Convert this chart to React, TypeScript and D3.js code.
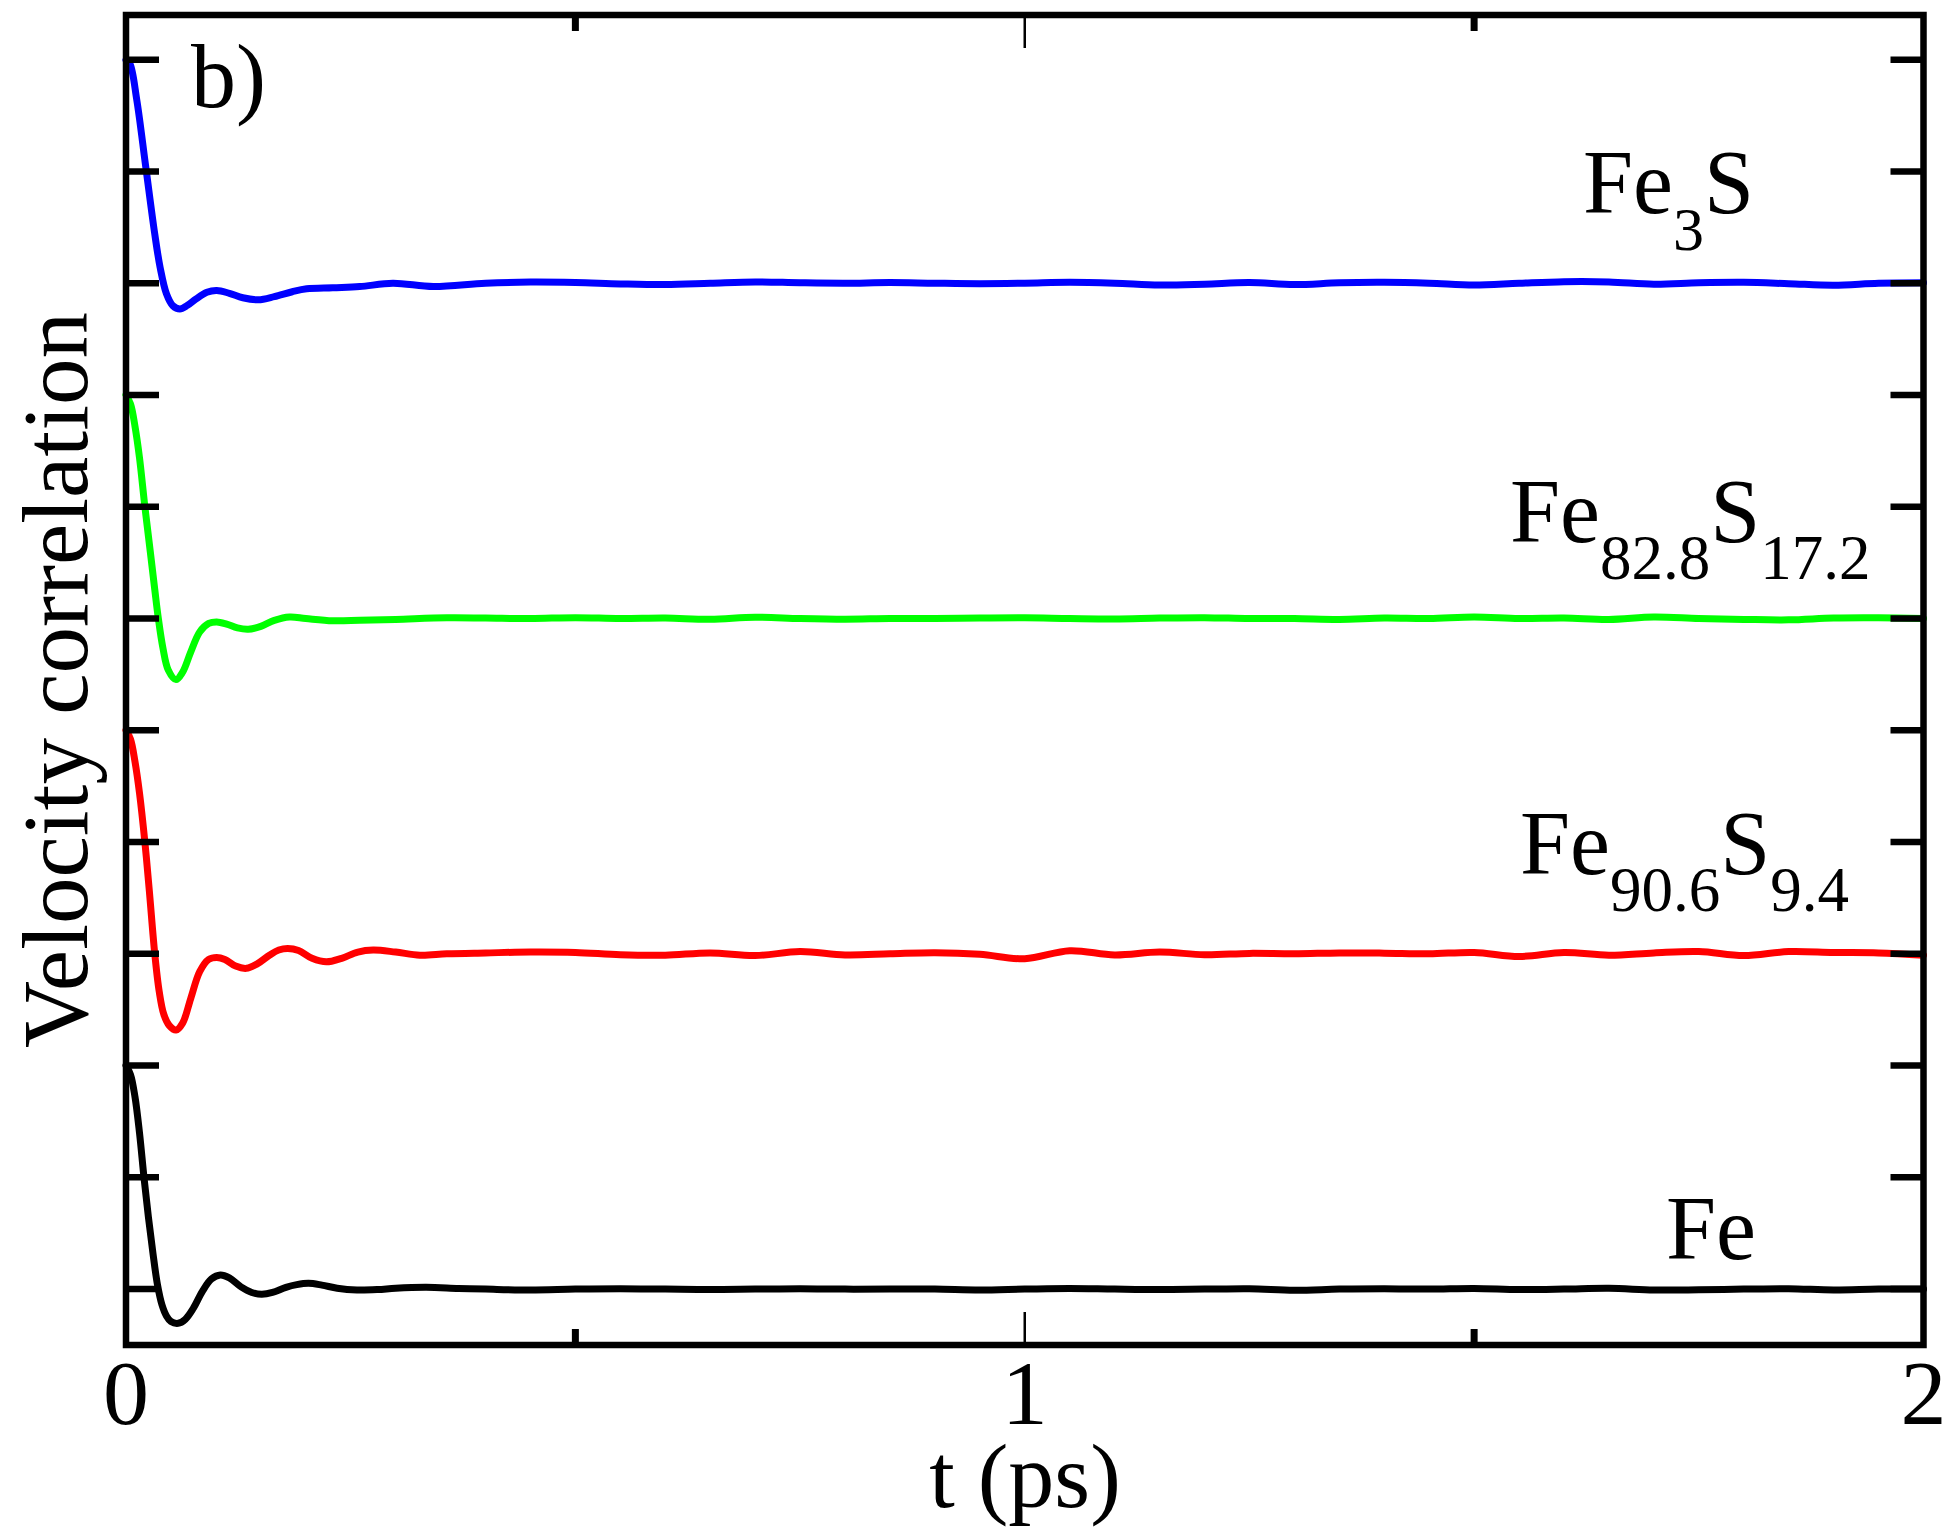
import React from 'react';
import * as d3 from 'd3';

const W = 1946;
const H = 1527;

// shared tail time grid (ps)
const tailT = [0.40, 0.45, 0.50, 0.55, 0.60, 0.65, 0.70, 0.75, 0.80, 0.85, 0.90, 0.95, 1.00, 1.05, 1.10, 1.15, 1.20, 1.25, 1.30, 1.35, 1.40, 1.45, 1.50, 1.55, 1.60, 1.65, 1.70, 1.75, 1.80, 1.85, 1.90, 1.95, 2.00];

// Fe (black)
const feEarlyT = [0, 0.005, 0.01, 0.015, 0.02, 0.025, 0.03, 0.035, 0.04, 0.045, 0.05, 0.058, 0.066, 0.075, 0.085, 0.095, 0.105, 0.115, 0.128, 0.14, 0.151, 0.163, 0.178, 0.19, 0.203, 0.218, 0.235, 0.257, 0.28, 0.3, 0.334, 0.37];
const feEarlyV = [1, 0.96, 0.86, 0.7, 0.5, 0.32, 0.16, 0.02, -0.07, -0.12, -0.145, -0.153, -0.135, -0.085, -0.01, 0.045, 0.063, 0.05, 0.01, -0.015, -0.023, -0.015, 0.008, 0.02, 0.026, 0.018, 0.004, -0.004, -0.002, 0.004, 0.008, 0.003];
const feTailV = [0.0, -0.004, 0.0, 0.002, 0.0, -0.002, 0.0, 0.002, 0.0, 0.0, 0.0, -0.004, 0.0, 0.003, 0.0, -0.002, 0.0, 0.002, -0.005, 0.0, 0.002, 0.0, 0.003, -0.002, 0.0, 0.004, -0.004, -0.003, 0.0, 0.002, -0.004, 0.0, 0.0];

// Fe90.6S9.4 (red)
const redEarlyT = [0, 0.005, 0.01, 0.015, 0.021, 0.026, 0.032, 0.037, 0.042, 0.048, 0.0556, 0.063, 0.072, 0.082, 0.092, 0.101, 0.11, 0.122, 0.134, 0.146, 0.16, 0.17, 0.18, 0.192, 0.207, 0.223, 0.24, 0.258, 0.275, 0.3, 0.327, 0.357];
const redEarlyV = [1, 0.96, 0.86, 0.72, 0.5, 0.28, 0.0, -0.17, -0.27, -0.32, -0.341, -0.31, -0.2, -0.08, -0.025, -0.016, -0.025, -0.055, -0.065, -0.045, -0.005, 0.017, 0.024, 0.015, -0.02, -0.036, -0.02, 0.008, 0.017, 0.008, -0.006, 0.0];
const redTailV = [0.004, 0.008, 0.006, -0.004, -0.006, 0.004, -0.008, 0.01, -0.005, 0.0, 0.005, -0.002, -0.022, 0.014, -0.005, 0.008, -0.004, 0.002, 0.0, 0.004, 0.003, 0.0, 0.006, -0.012, 0.006, -0.006, 0.004, 0.01, -0.008, 0.01, 0.006, 0.004, -0.006];

// Fe82.8S17.2 (green)
const greenEarlyT = [0, 0.005, 0.01, 0.015, 0.021, 0.027, 0.032, 0.036, 0.041, 0.047, 0.0556, 0.063, 0.072, 0.082, 0.092, 0.101, 0.112, 0.124, 0.136, 0.15, 0.165, 0.182, 0.2, 0.23, 0.26, 0.3, 0.357];
const greenEarlyV = [1, 0.96, 0.86, 0.72, 0.5, 0.3, 0.13, 0.0, -0.13, -0.23, -0.273, -0.24, -0.15, -0.06, -0.022, -0.015, -0.025, -0.042, -0.048, -0.035, -0.008, 0.007, 0.0, -0.01, -0.008, -0.004, 0.003];
const greenTailV = [0.002, 0.0, 0.004, 0.0, 0.002, -0.003, 0.006, 0.0, -0.003, 0.0, 0.0, 0.002, 0.003, 0.0, -0.002, 0.002, 0.004, 0.0, 0.0, -0.004, 0.002, 0.0, 0.007, 0.0, 0.002, -0.004, 0.007, 0.0, -0.004, -0.006, 0.002, 0.003, 0.0];

// Fe3S (blue)
const blueEarlyT = [0, 0.0045, 0.012, 0.022, 0.032, 0.038, 0.045, 0.052, 0.06, 0.068, 0.078, 0.09, 0.101, 0.115, 0.13, 0.147, 0.165, 0.185, 0.201, 0.23, 0.26, 0.297, 0.342];
const blueEarlyV = [1, 0.98, 0.82, 0.52, 0.22, 0.07, -0.047, -0.1, -0.115, -0.1, -0.07, -0.04, -0.032, -0.045, -0.065, -0.074, -0.06, -0.038, -0.025, -0.02, -0.015, 0.0, -0.015];
const blueTailV = [0.0, 0.005, 0.003, -0.003, -0.006, 0.0, 0.006, 0.002, 0.0, 0.003, 0.0, -0.002, 0.0, 0.004, 0.0, -0.008, -0.004, 0.003, -0.006, 0.002, 0.004, 0.0, -0.008, 0.0, 0.007, 0.006, -0.004, 0.002, 0.004, -0.002, -0.009, 0.0, 0.002];

const seriesNames = ['Fe', 'Fe90.6S9.4', 'Fe82.8S17.2', 'Fe3S'];
const seriesOffsets = [0, 1.5, 3.0, 4.5];
const seriesColors = ['#000000', '#ff0000', '#00ff00', '#0000ff'];

const yTickValues = [0, 0.5, 1, 1.5, 2, 2.5, 3, 3.5, 4, 4.5, 5, 5.5];
const xMajorTicks = [0, 1, 2];
const xMinorTicks = [0.5, 1.5];
const xTickLabels = ['0', '1', '2'];

const FONT = "'Liberation Serif', 'Times New Roman', Times, serif";

function build(t: number[], v: number[], tv: number[], off: number): [number, number][] {
  const pts: [number, number][] = t.map((tt, i) => [tt, v[i] + off]);
  tailT.forEach((tt, i) => pts.push([tt, tv[i] + off]));
  return pts;
}

export default function App() {
  const x = d3.scaleLinear().domain([0, 2]).range([126, 1923.5]);
  const y = d3.scaleLinear().domain([-0.25, 5.7]).range([1345, 15]);
  const line = d3
    .line<[number, number]>()
    .x((d) => x(d[0]))
    .y((d) => y(d[1]))
    .curve(d3.curveCatmullRom.alpha(0.5));

  const data = [
    build(feEarlyT, feEarlyV, feTailV, seriesOffsets[0]),
    build(redEarlyT, redEarlyV, redTailV, seriesOffsets[1]),
    build(greenEarlyT, greenEarlyV, greenTailV, seriesOffsets[2]),
    build(blueEarlyT, blueEarlyV, blueTailV, seriesOffsets[3]),
  ];

  const x0 = x(0), x1 = x(2), yT = y(5.7), yB = y(-0.25);
  const sw = 6.5;
  const tickLen = 33;
  const minorLen = 16;
  const ts: React.CSSProperties = { fontFamily: FONT };

  return (
    <svg
      width={W}
      height={H}
      style={{ position: 'absolute', left: 0, top: 0, background: '#fff' }}
    >
      <rect x={0} y={0} width={W} height={H} fill="#fff" />
      {data.map((d, i) => (
        <path
          key={seriesNames[i]}
          d={line(d) || ''}
          fill="none"
          stroke={seriesColors[i]}
          strokeWidth={7}
          strokeLinejoin="round"
          strokeLinecap="round"
        />
      ))}
      {yTickValues.map((v) => (
        <g key={'yt' + v}>
          <line x1={x0} x2={x0 + tickLen} y1={y(v)} y2={y(v)} stroke="#000" strokeWidth={sw} />
          <line x1={x1 - tickLen} x2={x1} y1={y(v)} y2={y(v)} stroke="#000" strokeWidth={sw} />
        </g>
      ))}
      {xMajorTicks.map((t) => (
        <g key={'xm' + t}>
          <line x1={x(t)} x2={x(t)} y1={yB} y2={yB - tickLen} stroke="#000" strokeWidth={2.5} />
          <line x1={x(t)} x2={x(t)} y1={yT} y2={yT + tickLen} stroke="#000" strokeWidth={2.5} />
        </g>
      ))}
      {xMinorTicks.map((t) => (
        <g key={'xn' + t}>
          <line x1={x(t)} x2={x(t)} y1={yB} y2={yB - minorLen} stroke="#000" strokeWidth={7} />
          <line x1={x(t)} x2={x(t)} y1={yT} y2={yT + minorLen} stroke="#000" strokeWidth={7} />
        </g>
      ))}
      <rect
        x={x0}
        y={yT}
        width={x1 - x0}
        height={yB - yT}
        fill="none"
        stroke="#000"
        strokeWidth={sw}
      />
      <g style={ts} fill="#000">
        {xMajorTicks.map((t, i) => (
          <text key={'xl' + t} x={x(t)} y={1424} fontSize={92} textAnchor="middle" style={ts}>
            {xTickLabels[i]}
          </text>
        ))}
        <text x={1025} y={1507} fontSize={92} textAnchor="middle" style={ts}>
          t (ps)
        </text>
        <text
          transform={`translate(87, ${(yT + yB) / 2}) rotate(-90)`}
          fontSize={93}
          textAnchor="middle"
          style={ts}
        >
          Velocity correlation
        </text>
        <text x={191} y={107} fontSize={90} style={ts}>
          b)
        </text>
        <text x={1583} y={213} fontSize={90} style={ts}>
          <tspan>Fe</tspan>
          <tspan dy={37} fontSize={62}>3</tspan>
          <tspan dy={-37}>S</tspan>
        </text>
        <text x={1510} y={542} fontSize={90} style={ts}>
          <tspan>Fe</tspan>
          <tspan dy={37} fontSize={63}>82.8</tspan>
          <tspan dy={-37}>S</tspan>
          <tspan dy={37} fontSize={63}>17.2</tspan>
        </text>
        <text x={1520} y={874} fontSize={90} style={ts}>
          <tspan>Fe</tspan>
          <tspan dy={37} fontSize={63}>90.6</tspan>
          <tspan dy={-37}>S</tspan>
          <tspan dy={37} fontSize={63}>9.4</tspan>
        </text>
        <text x={1666} y={1259} fontSize={90} style={ts}>
          Fe
        </text>
      </g>
    </svg>
  );
}
